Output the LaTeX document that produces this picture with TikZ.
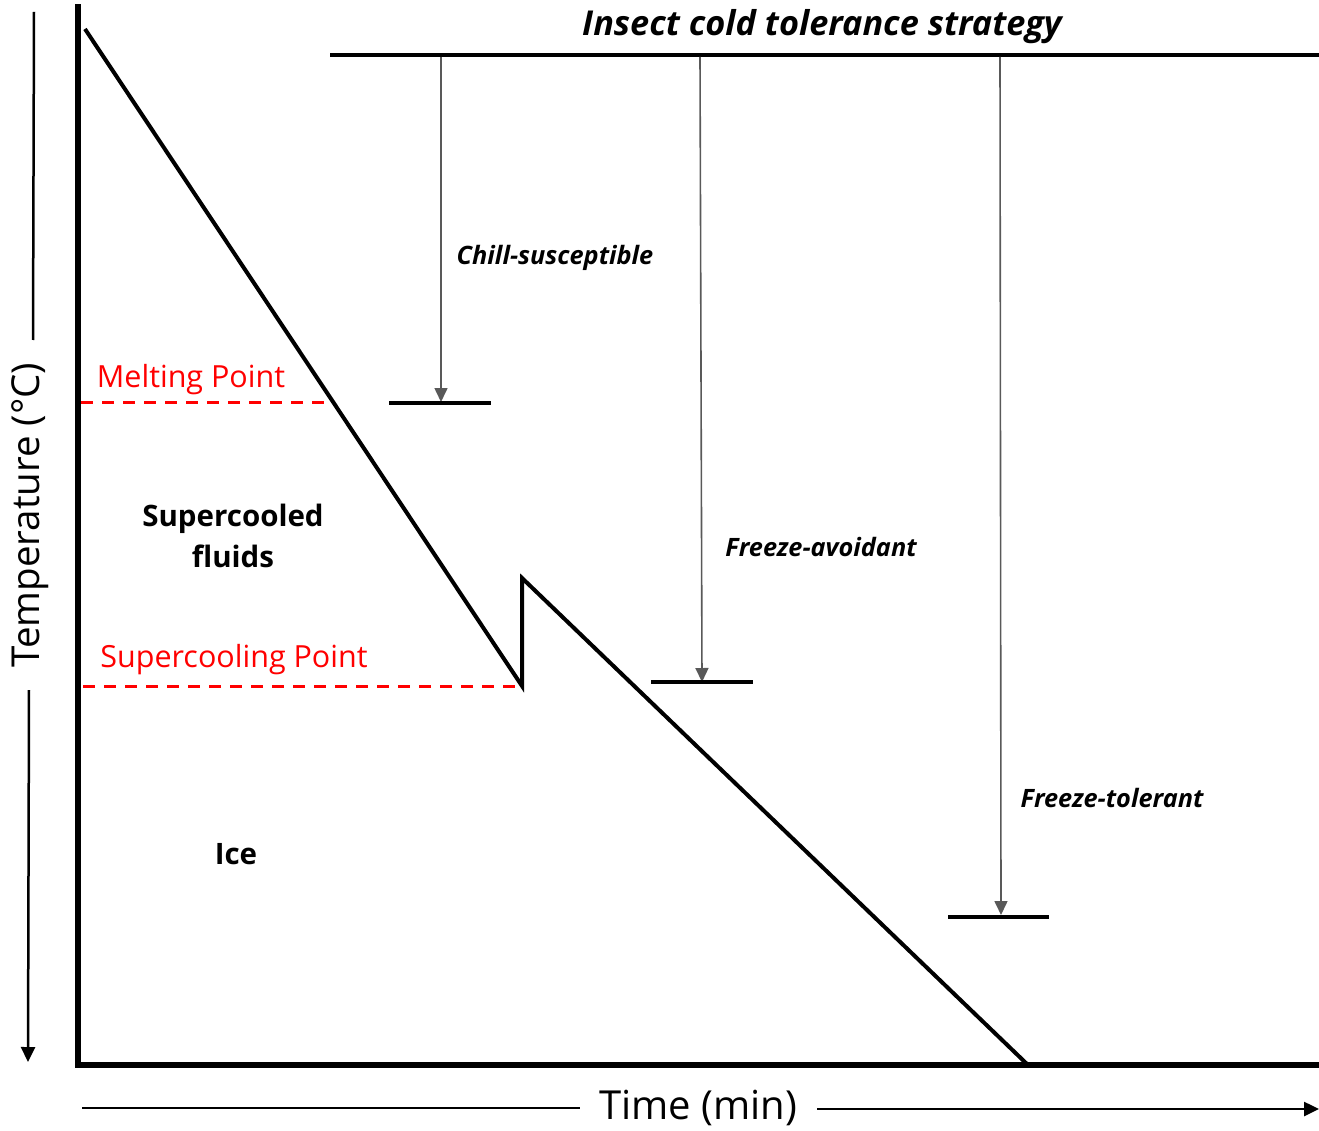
\documentclass[tikz,border=0pt]{standalone}
\usepackage{fontspec}
\setmainfont{Open Sans}
\usetikzlibrary{arrows.meta}
\definecolor{ptred}{RGB}{255,0,0}
\tikzset{
  axisline/.style={line width=6.5pt, line cap=rect},
  curve/.style={line width=4pt, line join=miter},
  redline/.style={ptred, line width=3pt, dash pattern=on 12pt off 9pt},
  strat/.style={black!65, line width=1.6pt, -{Triangle[width=13pt,length=14pt]}},
  bar/.style={line width=4pt},
  axisarrow/.style={line width=2.5pt, -{Triangle[width=14pt,length=15pt]}},
  plain/.style={line width=2.5pt},
  lab/.style={font=\fontsize{25.3}{30}\selectfont\bfseries\itshape, inner sep=0pt},
  redlab/.style={ptred, font=\fontsize{30.5}{36}\selectfont, inner sep=0pt},
  region/.style={font=\fontsize{29.5}{41}\selectfont\bfseries, align=center, inner sep=0pt},
}
\begin{document}
\begin{tikzpicture}[x=1pt,y=-1pt]
\useasboundingbox (0,0) rectangle (1319,1131);
% frame
\coordinate (ytop) at (78,7);
\coordinate (origin) at (78,1065);
\coordinate (xend) at (1319,1065);
\draw[axisline] (ytop) -- (origin) -- (xend);
% cooling curve
\coordinate (c0) at (85,29);
\coordinate (scp) at (522,686);
\coordinate (exo) at (522,578);
\coordinate (cend) at (1028,1065);
\draw[curve] (c0) -- (scp) -- (exo) -- (cend);
% red dashed lines
\coordinate (mp0) at (81,402);
\coordinate (mp1) at (331,402);
\draw[redline] (mp0) -- (mp1);
\coordinate (sp0) at (83,686);
\draw[redline] (sp0) -- (scp);
\node[redlab] (mplab) at (191,380) {Melting Point};
\node[redlab] (splab) at (234,660) {Supercooling Point};
% regions
\node[region] (sc) at (233,536) {Supercooled\\fluids};
\node[region] (ice) at (236,854) {Ice};
% strategy header
\coordinate (h0) at (330,55);
\coordinate (h1) at (1319,55);
\draw[bar] (h0) -- (h1);
\node[font=\fontsize{34.3}{40}\selectfont\bfseries\itshape, inner sep=0pt] (title) at (822,27) {Insect cold tolerance strategy};
% strategies
\coordinate (a1s) at (441,57); \coordinate (a1e) at (441,402);
\coordinate (a2s) at (700,57); \coordinate (a2e) at (702,682);
\coordinate (a3s) at (1000,57); \coordinate (a3e) at (1001,915);
\draw[strat] (a1s) -- (a1e);
\draw[strat] (a2s) -- (a2e);
\draw[strat] (a3s) -- (a3e);
\coordinate (b1a) at (389,403); \coordinate (b1b) at (491,403);
\coordinate (b2a) at (651,682); \coordinate (b2b) at (753,682);
\coordinate (b3a) at (948,917); \coordinate (b3b) at (1049,917);
\draw[bar] (b1a) -- (b1b);
\draw[bar] (b2a) -- (b2b);
\draw[bar] (b3a) -- (b3b);
\node[lab] (l1) at (555,258) {Chill-susceptible};
\node[lab] (l2) at (821,547) {Freeze-avoidant};
\node[lab] (l3) at (1112,798) {Freeze-tolerant};
% temperature axis label
\node[rotate=90, font=\fontsize{38.5}{46}\selectfont, inner sep=0pt] (tlab) at (30,515) {Temperature (°C)};
\coordinate (t0) at (34,12); \coordinate (t1) at (33,340);
\coordinate (t2) at (29,690); \coordinate (t3) at (28,1062);
\draw[plain] (t0) -- (t1);
\draw[axisarrow] (t2) -- (t3);
% time axis label
\node[font=\fontsize{40}{46}\selectfont, inner sep=0pt] (xlab) at (698,1108) {Time (min)};
\coordinate (x0) at (82,1108); \coordinate (x1) at (580,1108);
\coordinate (x2) at (817,1109); \coordinate (x3) at (1319,1109);
\draw[plain] (x0) -- (x1);
\draw[axisarrow] (x2) -- (x3);
\end{tikzpicture}
\end{document}
